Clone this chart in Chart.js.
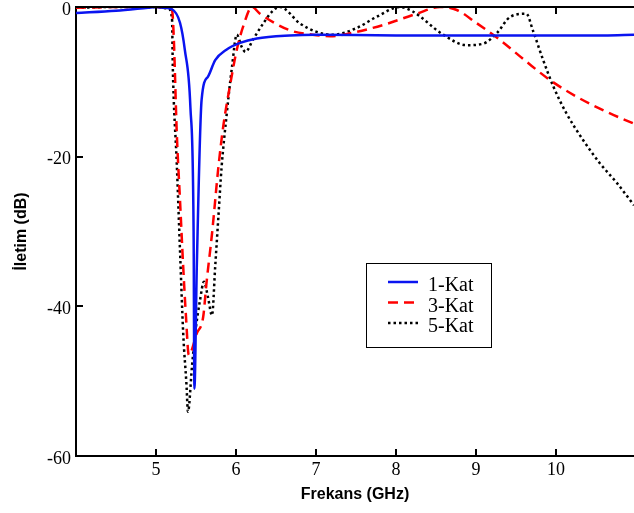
<!DOCTYPE html>
<html>
<head>
<meta charset="utf-8">
<script src="https://cdn.jsdelivr.net/npm/chart.js@4/dist/chart.umd.min.js"></script>
<style>
  html, body { margin: 0; padding: 0; background: #fff; }
  #wrap { width: 634px; height: 513px; }
</style>
</head>
<body>
<div id="wrap"><canvas id="iletimChart" width="634" height="513"></canvas></div>
<script>
// frequency (GHz) / transmission (dB)
var seriesLabels = ['1-Kat', '3-Kat', '5-Kat'];

var kat1Freq = [4.0, 4.5, 4.9, 5.0, 5.1, 5.2, 5.3, 5.36, 5.43, 5.47, 5.48, 5.51, 5.57, 5.65, 5.74, 5.88, 6.05, 6.26, 6.67, 7.0, 8.0, 9.0, 10.0, 10.6, 10.975];
var kat1dB   = [-0.8, -0.5, -0.1, 0, -0.1, -0.3, -2.1, -5.7, -13.4, -30, -51, -34.7, -12.4, -9.3, -7.1, -5.7, -4.8, -4.2, -3.8, -3.7, -3.8, -3.8, -3.8, -3.8, -3.7];

var kat3Freq = [4.0, 4.5, 5.0, 5.15, 5.2, 5.22, 5.26, 5.3, 5.34, 5.375, 5.41, 5.51, 5.59, 5.63, 5.70, 5.78, 5.84, 5.93, 6.01, 6.09, 6.2, 6.3, 6.67, 6.96, 7.18, 7.43, 7.84, 8.26, 8.55, 8.76, 9.0, 9.3, 9.63, 9.93, 10.26, 10.63, 10.975];
var kat3dB   = [-0.1, 0, 0, -0.1, -0.4, -3.5, -16.9, -25.8, -34.7, -41.4, -46.5, -43.6, -41.4, -37, -30.3, -21.4, -16, -10.2, -5.7, -2.6, 0, -0.9, -3.1, -3.7, -3.9, -3.5, -2.4, -0.9, 0, -0.4, -2.1, -4.4, -7.3, -9.8, -12, -14, -15.6];

var kat5Freq = [4.0, 4.5, 5.0, 5.15, 5.2, 5.21, 5.26, 5.3, 5.34, 5.38, 5.40, 5.45, 5.49, 5.55, 5.60, 5.65, 5.70, 5.74, 5.78, 5.82, 5.88, 5.95, 6.01, 6.07, 6.12, 6.21, 6.34, 6.47, 6.55, 6.8, 7.0, 7.21, 7.5, 7.76, 8.05, 8.21, 8.59, 8.88, 9.09, 9.26, 9.43, 9.63, 9.71, 9.84, 9.97, 10.13, 10.34, 10.55, 10.76, 10.975];
var kat5dB   = [-0.1, 0, 0, -0.2, -1.5, -8, -21, -32.5, -43.6, -50.3, -54.1, -48, -43.6, -39.2, -36.7, -38.8, -41.2, -34.7, -28, -21.4, -14.7, -8, -3.7, -5.3, -6, -4.4, -2.2, -0.4, 0, -2.2, -3.3, -3.7, -2.85, -1.3, 0, -0.6, -3.7, -5.1, -4.9, -3.5, -1.3, -0.9, -3.1, -7.1, -10.7, -14.2, -17.8, -20.9, -23.5, -26.5];

var xTicks = [5, 6, 7, 8, 9, 10];
var yTicks = [-60, -40, -20, 0];

function pairs(xs, ys) {
    return xs.map(function(x, i) { return {x: x, y: ys[i]}; });
}

var serif = '"Liberation Serif", "Times New Roman", serif';
var sans = '"Liberation Sans", Arial, sans-serif';

// inward tick marks and the top frame line
var frameTicks = {
    id: 'frameTicks',
    afterDatasetsDraw: function(chart) {
        var ctx = chart.ctx, a = chart.chartArea;
        var xs = chart.scales.x, ys = chart.scales.y;
        ctx.save();
        ctx.strokeStyle = '#000';
        ctx.lineWidth = 2;
        ctx.beginPath();
        ctx.moveTo(a.left, a.top);
        ctx.lineTo(a.right, a.top);
        xTicks.forEach(function(v) {
            var px = Math.round(xs.getPixelForValue(v));
            ctx.moveTo(px, a.bottom);
            ctx.lineTo(px, a.bottom - 7);
            ctx.moveTo(px, a.top);
            ctx.lineTo(px, a.top + 7);
        });
        yTicks.forEach(function(v) {
            var py = Math.round(ys.getPixelForValue(v));
            ctx.moveTo(a.left, py);
            ctx.lineTo(a.left + 7, py);
        });
        ctx.stroke();
        ctx.restore();
    }
};

// boxed legend inside the plot
var boxLegend = {
    id: 'boxLegend',
    afterDraw: function(chart) {
        var ctx = chart.ctx;
        var bx = 366, by = 263, bw = 125, bh = 84;
        ctx.save();
        ctx.fillStyle = '#fff';
        ctx.fillRect(bx, by, bw, bh);
        ctx.strokeStyle = '#000';
        ctx.lineWidth = 1;
        ctx.strokeRect(bx + 0.5, by + 0.5, bw, bh);
        chart.data.datasets.forEach(function(ds, i) {
            var y = by + 19 + i * 20.5;
            ctx.strokeStyle = ds.borderColor;
            ctx.lineWidth = ds.borderWidth;
            ctx.setLineDash(ds.borderDash || []);
            ctx.beginPath();
            ctx.moveTo(bx + 22, y);
            ctx.lineTo(bx + 52, y);
            ctx.stroke();
            ctx.setLineDash([]);
            ctx.fillStyle = '#000';
            ctx.font = '20px ' + serif;
            ctx.textBaseline = 'middle';
            ctx.fillText(ds.label, bx + 62, y + 4);
        });
        ctx.restore();
    }
};

var iletimCtx = document.getElementById('iletimChart').getContext('2d');

var iletimChart = new Chart(iletimCtx, {
    type: 'line',
    data: {
        datasets: [{
            label: seriesLabels[0],
            data: pairs(kat1Freq, kat1dB),
            borderColor: '#0a14f0',
            borderWidth: 2.5,
            pointRadius: 0,
            fill: false
        }, {
            label: seriesLabels[1],
            data: pairs(kat3Freq, kat3dB),
            borderColor: '#ff0000',
            borderWidth: 2.5,
            borderDash: [10, 6],
            pointRadius: 0,
            fill: false
        }, {
            label: seriesLabels[2],
            data: pairs(kat5Freq, kat5dB),
            borderColor: '#000000',
            borderWidth: 2.5,
            borderDash: [2.5, 3],
            pointRadius: 0,
            fill: false
        }]
    },
    options: {
        responsive: false,
        animation: false,
        cubicInterpolationMode: 'monotone',
        layout: { padding: { top: 7, right: 0, left: 0, bottom: 0 } },
        plugins: {
            legend: { display: false },
            tooltip: { enabled: false }
        },
        scales: {
            x: {
                type: 'linear',
                min: 4,
                max: 10.975,
                afterBuildTicks: function(scale) {
                    scale.ticks = xTicks.map(function(v) { return {value: v}; });
                },
                afterFit: function(scale) {
                    scale.height = 57;
                    scale.paddingLeft = 0;
                    scale.paddingRight = 0;
                },
                grid: { display: true, drawOnChartArea: false, drawTicks: false },
                border: { display: true, color: '#000', width: 2 },
                ticks: {
                    color: '#000',
                    padding: 3,
                    maxRotation: 0,
                    font: { family: serif, size: 18 }
                },
                title: {
                    display: true,
                    text: 'Frekans (GHz)',
                    color: '#000',
                    padding: { top: 0, bottom: 9 },
                    font: { family: sans, size: 16, weight: 'bold' }
                }
            },
            y: {
                min: -60,
                max: 0,
                afterBuildTicks: function(scale) {
                    scale.ticks = yTicks.map(function(v) { return {value: v}; });
                },
                afterFit: function(scale) {
                    scale.width = 76;
                    scale.paddingTop = 0;
                    scale.paddingBottom = 0;
                },
                grid: { display: true, drawOnChartArea: false, drawTicks: false },
                border: { display: true, color: '#000', width: 2 },
                ticks: {
                    color: '#000',
                    padding: 5,
                    labelOffset: 3,
                    font: { family: serif, size: 18 }
                },
                title: {
                    display: true,
                    text: 'İletim (dB)',
                    color: '#000',
                    padding: { top: 12, bottom: 0 },
                    font: { family: sans, size: 16, weight: 'bold' }
                }
            }
        }
    },
    plugins: [frameTicks, boxLegend]
});
</script>
</body>
</html>
